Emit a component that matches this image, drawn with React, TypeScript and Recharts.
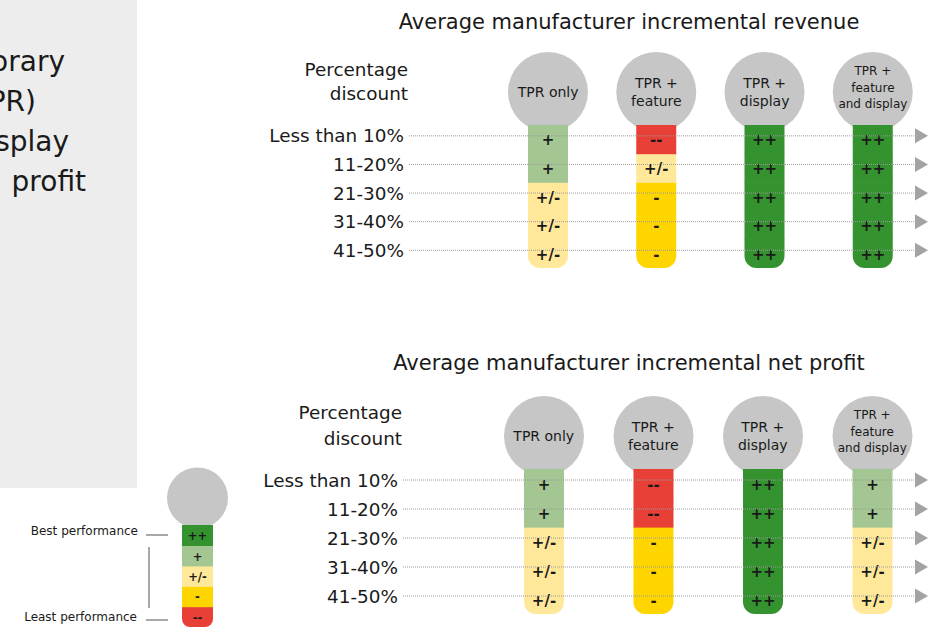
import React from "react";
import { BarChart, Bar, XAxis, YAxis, ReferenceLine } from "recharts";

// ---- data ----
const strategies = ["TPR only", "TPR + feature", "TPR + display", "TPR + feature and display"];
const strategyHeaderLines = [["TPR only"], ["TPR +", "feature"], ["TPR +", "display"], ["TPR +", "feature", "and display"]];
const discountBands = ["Less than 10%", "11-20%", "21-30%", "31-40%", "41-50%"];

// ratings per strategy, listed from the smallest discount band down to the largest
const revenueRatings = [
  ["+", "+", "+/-", "+/-", "+/-"],
  ["--", "+/-", "-", "-", "-"],
  ["++", "++", "++", "++", "++"],
  ["++", "++", "++", "++", "++"],
];
const profitRatings = [
  ["+", "+", "+/-", "+/-", "+/-"],
  ["--", "--", "-", "-", "-"],
  ["++", "++", "++", "++", "++"],
  ["+", "+", "+/-", "+/-", "+/-"],
];
const legendScale = ["++", "+", "+/-", "-", "--"];
const revenueTitle = "Average manufacturer incremental revenue";
const profitTitle = "Average manufacturer incremental net profit";
const introLines = ["orary", "PR)", "splay", "profit"];

// ---- styling ----
const FONT = "'DejaVu Sans', Verdana, sans-serif";
const INK = "#1a1a1a";
const ratingColors: Record<string, string> = {
  "++": "#34922F",
  "+": "#A3C693",
  "+/-": "#FFE899",
  "-": "#FFD500",
  "--": "#E84037",
};
const CIRCLE_GREY = "#C6C6C6";
const LINE_SHIFT = 0.12; // row guide lines sit a touch above the cell centres
const LABEL_SIZE = 18.4;

const buildRows = (names: string[], ratings: string[][]) =>
  names.map((name, i) => {
    const o: any = { name };
    ratings[i].forEach((sym, r) => {
      o[`v${r}`] = 1;
      o[`s${r}`] = sym;
    });
    return o;
  });

type ShapeOpts = {
  row: number;
  lastRow: number;
  circleRise: number;
  circleR: number;
  cornerR: number;
  fontSize: number;
};

const makeCellShape = (o: ShapeOpts) => (p: any) => {
  const { x, y, width, height, payload } = p;
  const sym: string = payload[`s${o.row}`];
  const fill = ratingColors[sym];
  const cx = x + width / 2;
  const r = o.cornerR;
  const isLast = o.row === o.lastRow;
  const body = isLast ? (
    <path
      d={`M${x},${y} H${x + width} V${y + height - r} A${r},${r} 0 0 1 ${x + width - r},${y + height} H${x + r} A${r},${r} 0 0 1 ${x},${y + height - r} Z`}
      fill={fill}
    />
  ) : (
    <rect x={x} y={y} width={width} height={height + 0.6} fill={fill} />
  );
  return (
    <g>
      {o.row === 0 && <circle cx={cx} cy={y - o.circleRise} r={o.circleR} fill={CIRCLE_GREY} />}
      {body}
      <text
        x={cx}
        y={y + height / 2 + 1}
        textAnchor="middle"
        dominantBaseline="central"
        fontFamily={FONT}
        fontSize={o.fontSize}
        fontWeight="bold"
        fill={INK}
      >
        {sym}
      </text>
    </g>
  );
};

const HeaderTick = (props: any) => {
  const { x, y, payload } = props;
  const idx = strategies.indexOf(payload.value);
  const lines = strategyHeaderLines[idx] ?? [String(payload.value)];
  const three = lines.length > 2;
  const fs = three ? 12 : 14;
  const gap = three ? 16.5 : 18;
  const shift = three ? -4.5 : 0;
  const start = y + shift - ((lines.length - 1) * gap) / 2;
  return (
    <g>
      {lines.map((l, i) => (
        <text
          key={i}
          x={x}
          y={start + i * gap}
          textAnchor="middle"
          dominantBaseline="central"
          fontSize={fs}
          fontFamily={FONT}
          fill={INK}
        >
          {l}
        </text>
      ))}
    </g>
  );
};

const bandLevel = (i: number) => discountBands.length - i - 0.5 + LINE_SHIFT;
const bandTicks = discountBands.map((_, i) => bandLevel(i));

const BandTick = (props: any) => {
  const { x, y, payload } = props;
  const idx = Math.round(discountBands.length - 0.5 + LINE_SHIFT - payload.value);
  return (
    <text x={x} y={y} textAnchor="end" dominantBaseline="central" fontSize={LABEL_SIZE} fontFamily={FONT} fill={INK}>
      {discountBands[idx]}
    </text>
  );
};

// dotted guide running across the panel, ending in a grey arrowhead
const GuideWithArrow = (props: any) => {
  const { x1, y1, x2 } = props;
  const tip = x2;
  const base = tip - 13;
  return (
    <g>
      <line x1={x1} y1={y1} x2={base} y2={y1} stroke="#9a9a9a" strokeWidth={1} strokeDasharray="1 1" />
      <path d={`M${base},${y1 - 7.5} L${tip},${y1} L${base},${y1 + 7.5} Z`} fill="#A3A3A3" />
    </g>
  );
};

type PanelProps = {
  ratings: string[][];
  top: number;
  height: number;
  plotLeft: number;
  plotTop: number;
  plotBottom: number;
  padLeft: number;
};

const RatingPanel = ({ ratings, top, height, plotLeft, plotTop, plotBottom, padLeft }: PanelProps) => {
  const data = buildRows(strategies, ratings);
  const rowsBottomFirst = discountBands.map((_, i) => discountBands.length - 1 - i);
  const axisH = 90;
  const yAxisW = 150;
  return (
    <div style={{ position: "absolute", left: 0, top, width: 948, height }}>
      <BarChart
        width={948}
        height={height}
        data={data}
        margin={{ top: plotTop - top - axisH, left: plotLeft - yAxisW, right: 20, bottom: top + height - plotBottom }}
        barCategoryGap={0}
      >
        <XAxis
          dataKey="name"
          orientation="top"
          height={axisH}
          axisLine={false}
          tickLine={false}
          tickSize={0}
          tickMargin={33}
          interval={0}
          padding={{ left: padLeft, right: 1 }}
          tick={<HeaderTick />}
        />
        <YAxis
          type="number"
          domain={[0, discountBands.length]}
          ticks={bandTicks}
          width={yAxisW}
          axisLine={false}
          tickLine={false}
          tickSize={0}
          tickMargin={5}
          interval={0}
          tick={<BandTick />}
        />
        {discountBands.map((b, i) => (
          <ReferenceLine key={b} y={bandLevel(i)} shape={GuideWithArrow} />
        ))}
        {rowsBottomFirst.map((r) => (
          <Bar
            key={r}
            dataKey={`v${r}`}
            stackId="col"
            barSize={40}
            isAnimationActive={false}
            shape={makeCellShape({
              row: r,
              lastRow: discountBands.length - 1,
              circleRise: 33,
              circleR: 40,
              cornerR: 12,
              fontSize: 15,
            })}
          />
        ))}
      </BarChart>
    </div>
  );
};

const LegendColumn = () => {
  const data = buildRows(["scale"], [legendScale]);
  const rowsBottomFirst = legendScale.map((_, i) => legendScale.length - 1 - i);
  return (
    <div style={{ position: "absolute", left: 150, top: 440, width: 100, height: 188 }}>
      <BarChart width={100} height={188} data={data} margin={{ top: 85, left: 10, right: 15, bottom: 1 }}>
        <XAxis dataKey="name" hide />
        <YAxis type="number" domain={[0, legendScale.length]} hide />
        {rowsBottomFirst.map((r) => (
          <Bar
            key={r}
            dataKey={`v${r}`}
            stackId="col"
            barSize={31}
            isAnimationActive={false}
            shape={makeCellShape({
              row: r,
              lastRow: legendScale.length - 1,
              circleRise: 27,
              circleR: 30.5,
              cornerR: 8,
              fontSize: 11.5,
            })}
          />
        ))}
      </BarChart>
    </div>
  );
};

const Backdrop = () => (
  <svg width={948} height={628} style={{ position: "absolute", left: 0, top: 0 }}>
    <rect x={0} y={0} width={137} height={488} fill="#EDEDED" />
    {introLines.map((t, i) => (
      <text
        key={t}
        x={[65, 36, 69, 86][i]}
        y={71 + i * 40}
        textAnchor="end"
        fontSize={28}
        fontFamily={FONT}
        fill={INK}
      >
        {t}
      </text>
    ))}

    <text x={629} y={29} textAnchor="middle" fontSize={21} fontFamily={FONT} fill={INK}>
      {revenueTitle}
    </text>
    <text x={408} y={76} textAnchor="end" fontSize={LABEL_SIZE} fontFamily={FONT} fill={INK}>
      Percentage
    </text>
    <text x={408} y={100} textAnchor="end" fontSize={LABEL_SIZE} fontFamily={FONT} fill={INK}>
      discount
    </text>

    <text x={629} y={370} textAnchor="middle" fontSize={21} fontFamily={FONT} fill={INK}>
      {profitTitle}
    </text>
    <text x={402} y={419} textAnchor="end" fontSize={LABEL_SIZE} fontFamily={FONT} fill={INK}>
      Percentage
    </text>
    <text x={402} y={445} textAnchor="end" fontSize={LABEL_SIZE} fontFamily={FONT} fill={INK}>
      discount
    </text>

    <text x={138} y={535} textAnchor="end" fontSize={12} fontFamily={FONT} fill={INK}>
      Best performance
    </text>
    <text x={137} y={621} textAnchor="end" fontSize={12} fontFamily={FONT} fill={INK}>
      Least performance
    </text>
    <line x1={146} y1={535} x2={168} y2={535} stroke="#707070" strokeWidth={1.2} />
    <line x1={146} y1={620} x2={168} y2={620} stroke="#707070" strokeWidth={1.2} />
    <line x1={149} y1={547} x2={149} y2={608} stroke="#707070" strokeWidth={1.2} />
  </svg>
);

export default function App() {
  return (
    <div
      style={{
        position: "absolute",
        left: 0,
        top: 0,
        width: 948,
        height: 628,
        overflow: "hidden",
        background: "#ffffff",
        fontFamily: FONT,
      }}
    >
      <Backdrop />
      <RatingPanel
        ratings={revenueRatings}
        top={0}
        height={280}
        plotLeft={409}
        plotTop={125}
        plotBottom={268}
        padLeft={85}
      />
      <RatingPanel
        ratings={profitRatings}
        top={330}
        height={296}
        plotLeft={403}
        plotTop={469}
        plotBottom={614}
        padLeft={86}
      />
      <LegendColumn />
    </div>
  );
}
